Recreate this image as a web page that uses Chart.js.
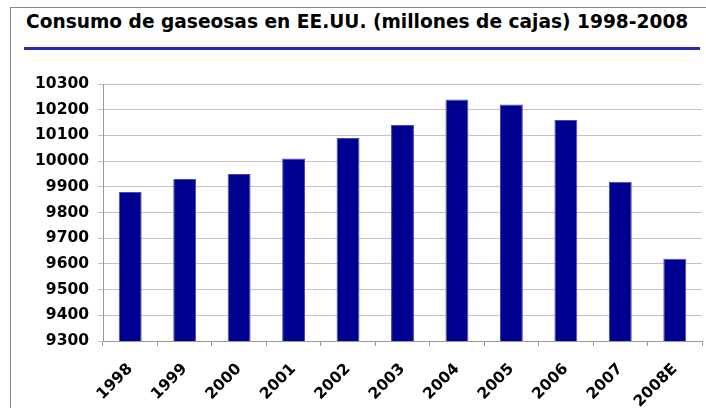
<!DOCTYPE html>
<html>
<head>
<meta charset="utf-8">
<script src="https://cdn.jsdelivr.net/npm/chart.js@4.4.1/dist/chart.umd.min.js"></script>
<style>
html,body{margin:0;padding:0;background:#fff;}
#wrap{position:relative;width:706px;height:408px;overflow:hidden;}
#frame{position:absolute;left:10px;top:7px;width:720px;height:420px;border-left:1px solid #888;border-top:1px solid #888;}
#title{position:absolute;left:26px;top:11px;font-family:"DejaVu Sans",sans-serif;font-weight:bold;font-size:18.6px;color:#000;white-space:nowrap;}
#rule{position:absolute;left:24px;top:47px;width:676px;height:3px;background:#2a2ab4;}
canvas{position:absolute;left:0;top:0;}
</style>
</head>
<body>
<div id="wrap">
<div id="frame"></div>
<div id="title">Consumo de gaseosas en EE.UU. (millones de cajas) 1998-2008</div>
<div id="rule"></div>
<canvas id="c" width="706" height="408"></canvas>
</div>
<script>
const categories = ["1998","1999","2000","2001","2002","2003","2004","2005","2006","2007","2008E"];
const consumption = [9880, 9930, 9950, 10010, 10090, 10140, 10240, 10220, 10160, 9920, 9620];
const yMin = 9300, yMax = 10300, yStep = 100;

const tickFont = {family: "DejaVu Sans", weight: "bold", size: 15.5};
new Chart(document.getElementById('c'), {
  type: 'bar',
  data: {
    labels: categories,
    datasets: [{
      data: consumption,
      backgroundColor: '#000090',
      borderColor: '#4848c0',
      borderWidth: 1,
      barPercentage: 0.42,
      categoryPercentage: 1.0
    }]
  },
  options: {
    responsive: false,
    animation: false,
    devicePixelRatio: 1,
    layout: {padding: {top: 84, right: 4, left: 0, bottom: 0}},
    plugins: {legend: {display: false}, tooltip: {enabled: false}, title: {display: false}},
    scales: {
      x: {
        grid: {display: true, drawOnChartArea: false, tickLength: 5, color: '#999', offset: true},
        border: {color: '#999', width: 1},
        ticks: {color: '#000', font: tickFont, maxRotation: 45, minRotation: 45, padding: 14},
        afterFit: s => { s.height = 408 - 341; }
      },
      y: {
        min: yMin, max: yMax,
        grid: {color: '#c4c4c4', lineWidth: 1, tickLength: 5},
        border: {color: '#999', width: 1},
        ticks: {stepSize: yStep, color: '#000', font: tickFont, padding: 9, callback: v => String(v)},
        afterFit: s => { s.width = 103; }
      }
    }
  }
});
</script>
</body>
</html>
